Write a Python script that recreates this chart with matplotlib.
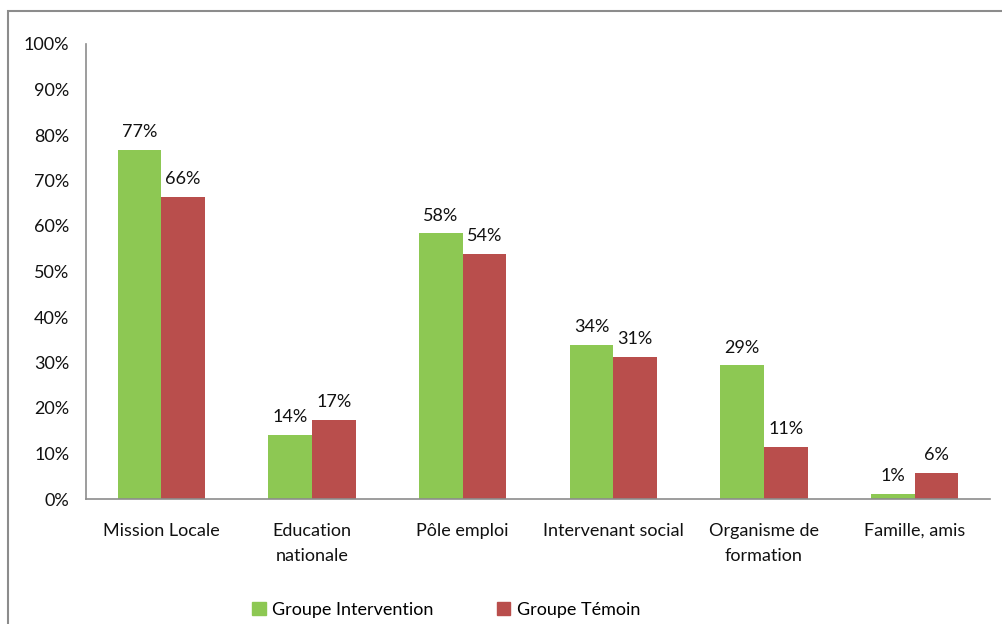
import matplotlib.pyplot as plt
import numpy as np
from matplotlib.patches import Rectangle, Patch

categories = ["Mission Locale", "Education\nnationale", "Pôle emploi",
              "Intervenant social", "Organisme de\nformation", "Famille, amis"]
intervention = [76.7, 14.1, 58.4, 33.8, 29.4, 1.1]
temoin = [66.4, 17.4, 53.8, 31.2, 11.4, 5.7]
series_names = ["Groupe Intervention", "Groupe Témoin"]
colors = ['#8DC853', '#B94E4C']

plt.rcParams['font.family'] = ['Lato', 'DejaVu Sans']

fig = plt.figure(figsize=(10.03, 6.24), dpi=100)
ax = fig.add_axes([86 / 1003, 1 - 499 / 624, (990 - 86) / 1003, (499 - 44) / 624])

x = np.arange(len(categories))
w = 0.29
b1 = ax.bar(x - w / 2, intervention, w, color=colors[0])
b2 = ax.bar(x + w / 2, temoin, w, color=colors[1])

for bars, vals in ((b1, intervention), (b2, temoin)):
    for rect, v in zip(bars, vals):
        ax.annotate(f"{round(v):d}%", (rect.get_x() + rect.get_width() / 2, v),
                    xytext=(0, 7), textcoords='offset points',
                    ha='center', va='bottom', fontsize=13, color='#111111')

ax.set_xlim(-0.5, len(categories) - 0.5)
ax.set_ylim(0, 100)
ax.set_yticks(range(0, 101, 10))
ax.set_yticklabels([f"{t}%" for t in range(0, 101, 10)])
ax.set_xticks(x)
ax.set_xticklabels(categories, linespacing=1.75)
ax.tick_params(axis='both', length=0, labelsize=13, colors='#111111')
ax.tick_params(axis='y', pad=12)
ax.tick_params(axis='x', pad=17)
for s in ('top', 'right'):
    ax.spines[s].set_visible(False)
for s in ('left', 'bottom'):
    ax.spines[s].set_color('#8c8c8c')
    ax.spines[s].set_linewidth(1.2)

handles = [Patch(color=c, label=n) for c, n in zip(colors, series_names)]
fig.legend(handles=handles, loc='center left', bbox_to_anchor=(236 / 1003, 1 - 610 / 624),
           ncol=2, frameon=False, fontsize=13, handlelength=0.75, handleheight=0.75,
           handletextpad=0.35, columnspacing=3.5)

fig.patches.append(Rectangle((8 / 1003, -0.1), 1.2, 1 - 11 / 624 + 0.1,
                             transform=fig.transFigure, fill=False,
                             edgecolor='#8c8c8c', linewidth=1.5))

fig.savefig('out.png', dpi=100)
